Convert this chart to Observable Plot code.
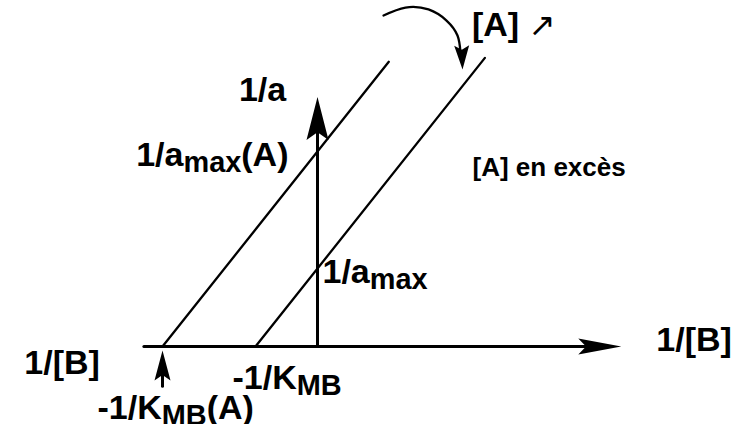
<!DOCTYPE html>
<html>
<head>
<meta charset="utf-8">
<script src="https://cdn.jsdelivr.net/npm/d3@7"></script>
<script src="https://cdn.jsdelivr.net/npm/@observablehq/plot@0.6"></script>
<style>
  html, body { margin: 0; padding: 0; background: #fff; }
</style>
</head>
<body>
<div id="chart"></div>
<script>
// Lineweaver–Burk plot of 1/a against 1/[B]: the line with A and the limit line with A in excess.
const series   = ["avec A", "[A] en excès"];
const invAmax  = [2.5, 1];      // y-intercepts: 1/amax(A), 1/amax
const invKmb   = [2.5, 1];      // 1/KMB(A), 1/KMB  (x-intercepts are -1/KMB)
const xEnd     = [1.15, 2.7];   // 1/[B] where each line stops
const xAxisSpan = [-2.8, 4.9];  // 1/[B] axis: tail, arrow tip
const yAxisSpan = [0, 3.2];     // 1/a axis: foot, arrow tip
// curved arrow showing the shift of the line as [A] rises
const turnArc = [[1.065, 4.244], [1.419, 4.346], [1.79, 4.321], [2.081, 4.179], [2.258, 3.987], [2.306, 3.769]];
const turnTip = [2.339, 3.551];
const pointerSpan = [-0.51, -0.05]; // small pointer under -1/KMB(A)

// frame: origin of the axes and size of one unit, in pixels
const W = 736, H = 424;
const originX = 317, originY = 346, unitX = 62, unitY = 78;
const font = "'Liberation Sans', Arial, Helvetica, sans-serif";

// each line: 1/a = (1/amax) * (1 + (1/[B]) / (1/KMB))
const lines = series.flatMap((s, i) => [-invKmb[i], xEnd[i]].map(x => ({
  series: s, x, y: invAmax[i] * (1 + x / invKmb[i])
})));

// filled, slightly notched arrowhead of a given half-width, for Plot.vector
const stealth = (half) => ({
  draw(context, l) {
    context.moveTo(0, -l);
    context.lineTo(half, 0);
    context.lineTo(0, -l * 0.18);
    context.lineTo(-half, 0);
    context.closePath();
  }
});
const head = (pt, rotate, length, half) =>
  Plot.vector([pt], {x: d => d[0], y: d => d[1], rotate, length, anchor: "end",
    shape: stealth(half), fill: "black", stroke: "none"});

const xHead = 43, yHead = 43, pHead = 30;
const big = 34;
const labels = [
  {text: "1/a",             x: 0,              y: yAxisSpan[1], dx: -55, dy: 4,  anchor: "middle", size: big},
  {text: "1/a_{max}(A)",    x: 0,              y: invAmax[0],   dx: -29, dy: 14, anchor: "end",    size: big},
  {text: "1/a_{max}",       x: 0,              y: invAmax[1],   dx: 5,   dy: 14, anchor: "start",  size: big},
  {text: "1/[B]",           x: xAxisSpan[1],   y: 0,            dx: 35,  dy: 4,  anchor: "start",  size: big},
  {text: "1/[B]",           x: xAxisSpan[0],   y: 0,            dx: -44, dy: 27, anchor: "end",    size: big},
  {text: "-1/K_{MB}",       x: -invKmb[1],     y: 0,            dx: -23, dy: 42, anchor: "start",  size: big},
  {text: "-1/K_{MB}(A)",    x: -invKmb[0],     y: 0,            dx: -65, dy: 72, anchor: "start",  size: big},
  {text: "[A] \u2197",      x: xEnd[1],        y: invAmax[1] * (1 + xEnd[1] / invKmb[1]), dx: -13, dy: -22, anchor: "start", size: big},
  {text: "[A] en excès",    x: 2.5,            y: 2.19,         dx: 0,   dy: 0,  anchor: "start",  size: 26}
];

const plot = Plot.plot({
  width: W, height: H, margin: 0,
  x: {domain: [-originX / unitX, (W - originX) / unitX], axis: null},
  y: {domain: [-(H - originY) / unitY, originY / unitY], axis: null},
  style: {fontFamily: font, background: "white", color: "black", overflow: "visible"},
  marks: [
    // the two parallel lines
    Plot.line(lines, {x: "x", y: "y", z: "series", stroke: "black", strokeWidth: 2.3}),
    // 1/[B] axis
    Plot.line([[xAxisSpan[0], 0], [xAxisSpan[1] - 0.75 * xHead / unitX, 0]], {x: d => d[0], y: d => d[1], stroke: "black", strokeWidth: 3}),
    head([xAxisSpan[1], 0], 90, xHead, 8),
    // 1/a axis
    Plot.line([[0, yAxisSpan[0]], [0, yAxisSpan[1] - 0.75 * yHead / unitY]], {x: d => d[0], y: d => d[1], stroke: "black", strokeWidth: 3}),
    head([0, yAxisSpan[1]], 0, yHead, 11),
    // pointer to -1/KMB(A)
    Plot.line([[-invKmb[0], pointerSpan[0]], [-invKmb[0], pointerSpan[1] - 0.7 * pHead / unitY]], {x: d => d[0], y: d => d[1], stroke: "black", strokeWidth: 3}),
    head([-invKmb[0], pointerSpan[1]], 0, pHead, 8),
    // curved arrow
    Plot.line(turnArc, {x: d => d[0], y: d => d[1], curve: "natural", stroke: "black", strokeWidth: 2.3}),
    head(turnTip, 178, 24, 7.5),
    // labels
    ...labels.map(l => Plot.text([l], {x: "x", y: "y", text: "text", dx: l.dx, dy: l.dy,
      textAnchor: l.anchor, lineAnchor: "bottom", fontSize: l.size, fontWeight: "bold", fill: "black"}))
  ]
});

document.getElementById("chart").appendChild(plot);

// "_{...}" becomes a lowered subscript; the ↗ sign is set in a lighter weight
d3.select(plot).selectAll("text").each(function () {
  const s = this.textContent;
  const fs = parseFloat(getComputedStyle(this).fontSize);
  if (s.includes("\u2197")) {
    const [before, after] = s.split("\u2197");
    this.textContent = "";
    d3.select(this).append("tspan").text(before);
    d3.select(this).append("tspan").attr("font-weight", "normal").attr("font-family", "'DejaVu Sans'")
      .attr("font-size", fs * 0.95).text("\u2197");
    if (after) d3.select(this).append("tspan").text(after);
    return;
  }
  if (!s.includes("_{")) return;
  const shift = fs * 0.2;
  const parts = s.split(/_\{([^}]*)\}/);
  this.textContent = "";
  let lowered = false;
  parts.forEach((p, k) => {
    if (!p) return;
    const t = d3.select(this).append("tspan").text(p);
    if (k % 2) { t.attr("font-size", fs * 0.85).attr("dy", shift); lowered = true; }
    else if (lowered) { t.attr("dy", -shift); lowered = false; }
  });
});
</script>
</body>
</html>
